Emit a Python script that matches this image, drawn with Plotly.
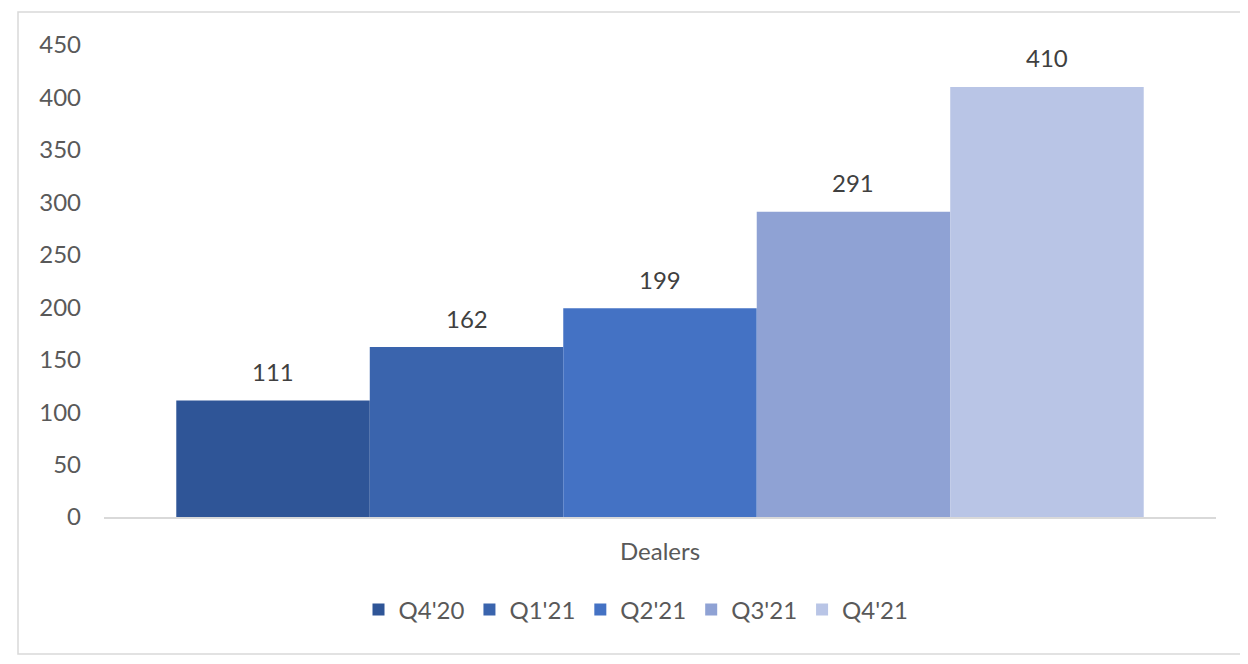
import plotly.graph_objects as go

# data
category = ["Dealers"]
quarters = ["Q4'20", "Q1'21", "Q2'21", "Q3'21", "Q4'21"]
dealers = [111, 162, 199, 291, 410]
colors = ["#2F5597", "#3A64AD", "#4472C4", "#8FA2D4", "#B9C5E6"]
y_ticks = [0, 50, 100, 150, 200, 250, 300, 350, 400, 450]

font_name = "Lato, Carlito, Calibri, sans-serif"
plot_w = 1112
bargap = 0.13
bar_w = plot_w * (1 - bargap) / len(quarters)

fig = go.Figure()
for q, v, c in zip(quarters, dealers, colors):
    fig.add_trace(go.Bar(name=q, x=category, y=[v], marker_color=c, marker_line_width=0))

# data labels, lifted off the bar tops like Excel does
for i, v in enumerate(dealers):
    fig.add_annotation(x=category[0], y=v, text=str(v), showarrow=False,
                       xshift=(i - (len(dealers) - 1) / 2) * bar_w, yshift=29,
                       yanchor="middle",
                       font=dict(size=24, color="#404040", family=font_name))

# page has an 8px body margin, so margins are shifted by 8px
fig.update_layout(
    width=1248, height=664,
    margin=dict(l=96, r=40, t=37, b=155),
    paper_bgcolor="white", plot_bgcolor="white",
    barmode="group", bargap=bargap, bargroupgap=0,
    font=dict(family=font_name, size=24, color="#595959"),
    showlegend=True,
    legend=dict(orientation="h", x=0.5 - 24 / plot_w, xanchor="center", y=-0.149, yanchor="top",
                font=dict(size=24, color="#595959"), itemwidth=30,
                traceorder="normal"),
)
fig.update_yaxes(range=[0, 450], tickvals=y_ticks, showgrid=False, zeroline=False,
                 showline=False, ticks="", ticklabelstandoff=22,
                 tickfont=dict(size=24, color="#595959"))
fig.update_xaxes(showline=True, linecolor="#D9D9D9", linewidth=1.5, ticks="",
                 ticklabelstandoff=12, tickfont=dict(size=24, color="#595959"))

# chart frame
fig.add_shape(type="rect", xref="paper", yref="paper",
              x0=-86 / plot_w, x1=1.05, y0=-137 / 472, y1=1 + 33 / 472,
              line=dict(color="#D9D9D9", width=1.5), layer="below")

fig.write_html("out.html")
